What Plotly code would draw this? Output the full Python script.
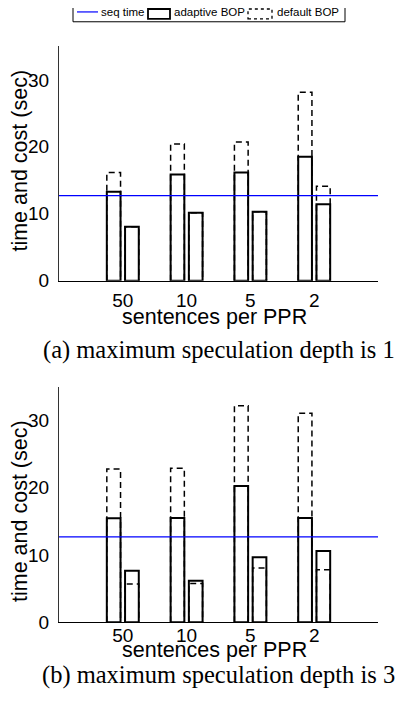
import plotly.graph_objects as go

# ---------------- data ----------------
categories = ["50", "10", "5", "2"]
seq_time = 12.7

# (a) maximum speculation depth is 1
a_time_adaptive = [13.3, 15.85, 16.15, 18.5]
a_time_default = [16.15, 20.4, 20.7, 28.15]
a_cost_adaptive = [8.05, 10.15, 10.3, 11.4]
a_cost_default = [8.05, 10.15, 10.3, 14.1]

# (b) maximum speculation depth is 3
b_time_adaptive = [15.45, 15.5, 20.25, 15.5]
b_time_default = [22.8, 22.9, 32.2, 31.1]
b_cost_adaptive = [7.65, 6.15, 9.65, 10.6]
b_cost_default = [5.7, 5.75, 8.05, 7.8]

y_ticks = [0, 10, 20, 30]
x_title = "sentences per PPR"
y_title = "time and cost (sec)"
caption_a = "(a) maximum speculation depth is 1"
caption_b = "(b) maximum speculation depth is 3"
legend_names = ["seq time", "adaptive BOP", "default BOP"]

# ---------------- geometry helpers ----------------
OFF = 8          # default body margin of the html page
W, H = 408 - 2 * OFF, 717 - 2 * OFF


def px(x):
    return (x - OFF) / W


def py(y):
    return 1 - (y - OFF) / H


BAR_W = 0.215
SHIFT = 0.143
pos = list(range(1, len(categories) + 1))
XMAX = len(categories) + 1

SANS = "Liberation Sans, Arial, Helvetica, sans-serif"
SERIF = "Liberation Serif, Times New Roman, serif"
DASH = "6px,4px"

fig = go.Figure()


def add_panel(xa, ya, t_ad, t_def, c_ad, c_def):
    for shift, vals in [(-SHIFT, t_ad), (SHIFT, c_ad)]:
        fig.add_trace(go.Bar(
            x=[p + shift for p in pos], y=vals, width=BAR_W,
            marker=dict(color="white", line=dict(color="black", width=2)),
            xaxis=xa, yaxis=ya, showlegend=False, hoverinfo="skip"))
    for shift, vals in [(-SHIFT, t_def), (SHIFT, c_def)]:
        xs, ys = [], []
        for p, v in zip(pos, vals):
            l, r = p + shift - BAR_W / 2, p + shift + BAR_W / 2
            xs += [l, l, r, r, None]
            ys += [0, v, v, 0, None]
        fig.add_trace(go.Scatter(
            x=xs, y=ys, mode="lines",
            line=dict(color="black", width=1.5, dash=DASH),
            xaxis=xa, yaxis=ya, showlegend=False, hoverinfo="skip"))
    fig.add_trace(go.Scatter(
        x=[0, XMAX], y=[seq_time, seq_time], mode="lines",
        line=dict(color="#0000ff", width=1.2),
        xaxis=xa, yaxis=ya, showlegend=False, hoverinfo="skip"))


add_panel("x", "y", a_time_adaptive, a_time_default, a_cost_adaptive, a_cost_default)
add_panel("x2", "y2", b_time_adaptive, b_time_default, b_cost_adaptive, b_cost_default)

xcommon = dict(range=[0, XMAX], tickvals=pos, ticktext=categories,
               showline=True, linecolor="black", linewidth=1,
               showgrid=False, zeroline=False, ticks="",
               tickfont=dict(family=SANS, size=19, color="black"))
ycommon = dict(range=[0, 35], tickvals=y_ticks,
               showline=True, linecolor="#333333", linewidth=1,
               showgrid=False, zeroline=False, ticks="",
               tickfont=dict(family=SANS, size=19, color="black"),
               ticklabelstandoff=5)

annotations = []
shapes = []

panels = [
    # y-title centre, x-title centre, caption centre, caption text
    (163, 322, 355, caption_a),
    (519, 660, 686, caption_b),
]
for (yt, xt, cy, cap) in panels:
    annotations.append(dict(text=y_title, x=px(20), y=py(yt),
                            xref="paper", yref="paper", showarrow=False, textangle=-90,
                            xanchor="center", yanchor="middle",
                            font=dict(family=SANS, size=21.5, color="black")))
    annotations.append(dict(text=x_title, x=px(214), y=py(xt),
                            xref="paper", yref="paper", showarrow=False,
                            xanchor="center", yanchor="middle",
                            font=dict(family=SANS, size=21.5, color="black")))
    annotations.append(dict(text=cap, x=px(219), y=py(cy),
                            xref="paper", yref="paper", showarrow=False,
                            xanchor="center", yanchor="middle",
                            font=dict(family=SERIF, size=24.5, color="black")))

# ---- custom legend ----
shapes.append(dict(type="rect", xref="paper", yref="paper",
                   x0=px(73), x1=px(345), y0=py(22), y1=py(2),
                   line=dict(color="black", width=1), fillcolor="white"))
shapes.append(dict(type="line", xref="paper", yref="paper",
                   x0=px(77), x1=px(98), y0=py(12), y1=py(12),
                   line=dict(color="#0000ff", width=1.2)))
shapes.append(dict(type="rect", xref="paper", yref="paper",
                   x0=px(148), x1=px(170), y0=py(19), y1=py(9),
                   line=dict(color="black", width=1.8)))
shapes.append(dict(type="rect", xref="paper", yref="paper",
                   x0=px(248), x1=px(272), y0=py(19), y1=py(9),
                   line=dict(color="black", width=1.3, dash="3px,3px")))
for name, xl in zip(legend_names, [99, 172, 275]):
    annotations.append(dict(text=name, x=px(xl), y=py(12.5), xref="paper", yref="paper",
                            showarrow=False, xanchor="left", yanchor="middle",
                            font=dict(family=SANS, size=11.5, color="black")))

fig.update_layout(
    width=W, height=H,
    margin=dict(l=0, r=0, t=0, b=0),
    paper_bgcolor="white", plot_bgcolor="white",
    barmode="overlay", showlegend=False,
    xaxis=dict(domain=[px(59), px(378)], anchor="y", ticklabelstandoff=3, **xcommon),
    yaxis=dict(domain=[py(285), py(47)], anchor="x", **ycommon),
    xaxis2=dict(domain=[px(59), px(378)], anchor="y2", ticklabelstandoff=-4, **xcommon),
    yaxis2=dict(domain=[py(632), py(393)], anchor="x2", **ycommon),
    annotations=annotations, shapes=shapes,
)

fig.write_html("out.html")
